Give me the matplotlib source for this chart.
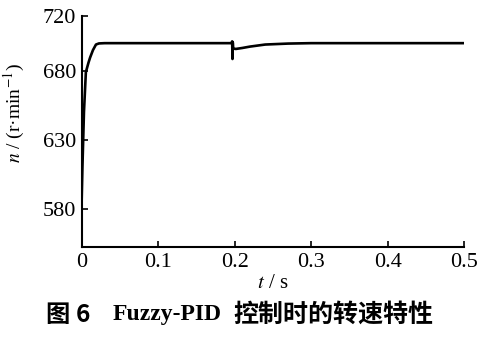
import matplotlib.pyplot as plt

plt.rcParams['font.family'] = ['Liberation Serif', 'Noto Sans CJK SC']
plt.rcParams['mathtext.fontset'] = 'stix'

# speed response
t = [0, 0.001, 0.003, 0.0055, 0.007, 0.009, 0.011, 0.0148, 0.0187, 0.0226, 0.03,
     0.196, 0.1968, 0.1972, 0.1976, 0.198, 0.199, 0.2016, 0.21, 0.22, 0.24, 0.27, 0.3, 0.5]
n = [586, 610, 650, 679, 682, 686, 689.5, 695, 699, 699.8, 700,
     700, 701.3, 688.5, 700.5, 697, 696, 695.8, 696.5, 697.5, 699, 699.7, 700, 700]

xticks = [0, 0.1, 0.2, 0.3, 0.4, 0.5]
xticklabels = ['0', '0.1', '0.2', '0.3', '0.4', '0.5']
yticks = [580, 630, 680, 720]

fig = plt.figure(figsize=(4.89, 3.39), dpi=100)
ax = fig.add_axes([0.167, 0.271, 0.782, 0.683])
ax.plot(t, n, color='black', lw=1.9)

ax.set_xlim(0, 0.5)
ax.set_ylim(552, 720)
ax.set_xticks(xticks)
ax.set_xticklabels(xticklabels)
ax.set_yticks(yticks)
ax.tick_params(direction='in', length=4, width=1.2, labelsize=16, pad=4)
ax.spines['top'].set_visible(False)
ax.spines['right'].set_visible(False)
ax.spines['left'].set_linewidth(1.5)
ax.spines['bottom'].set_linewidth(1.5)

ax.set_xlabel(r'$t$ / s', fontsize=15)
ax.xaxis.set_label_coords(0.5, -0.118)
ax.set_ylabel(r'$n$ / (r·min$^{-1}$)', fontsize=14)
ax.yaxis.set_label_coords(-0.142, 0.58)

cap_y = 0.072
fig.text(45 / 489, cap_y, '图', fontsize=17.5, fontweight='bold', va='center',
         family=['Noto Sans CJK SC'])
fig.text(76 / 489, cap_y, '6', fontsize=17.5, fontweight='bold', va='center',
         family=['Noto Sans CJK SC'])
fig.text(113 / 489, cap_y, 'Fuzzy-PID', fontsize=17, fontweight='bold', va='center',
         family=['Liberation Serif'])
fig.text(233 / 489, cap_y, '控制时的转速特性', fontsize=18, fontweight='bold', va='center',
         family=['Noto Sans CJK SC'])

fig.savefig('out.png', dpi=100)
